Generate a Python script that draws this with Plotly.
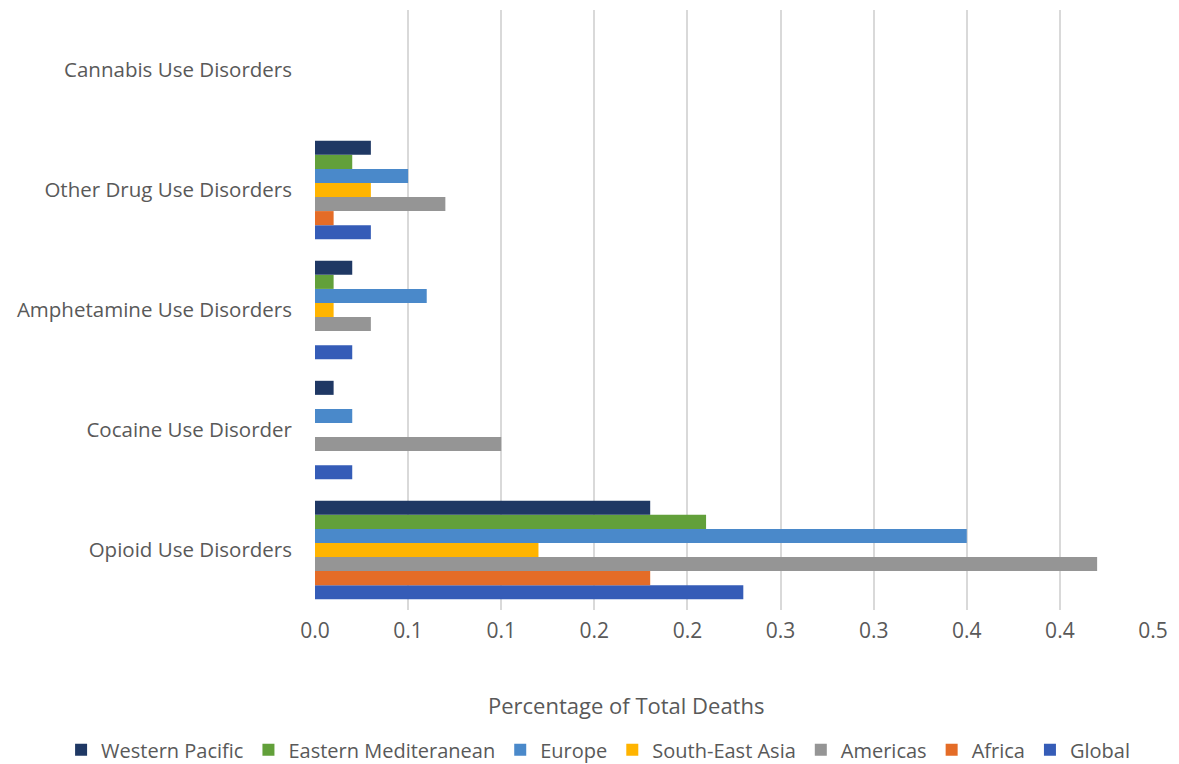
import plotly.graph_objects as go

categories = ["Opioid Use Disorders", "Cocaine Use Disorder", "Amphetamine Use Disorders",
              "Other Drug Use Disorders", "Cannabis Use Disorders"]

# values per region, in category order above
global_vals = [0.23, 0.02, 0.02, 0.03, 0.0]
africa_vals = [0.18, 0.0, 0.0, 0.01, 0.0]
americas_vals = [0.42, 0.10, 0.03, 0.07, 0.0]
sea_vals = [0.12, 0.0, 0.01, 0.03, 0.0]
europe_vals = [0.35, 0.02, 0.06, 0.05, 0.0]
emr_vals = [0.21, 0.0, 0.01, 0.02, 0.0]
wpr_vals = [0.18, 0.01, 0.02, 0.03, 0.0]

tick_vals = [0, 0.05, 0.10, 0.15, 0.20, 0.25, 0.30, 0.35, 0.40, 0.45]
tick_text = ["0.0", "0.1", "0.1", "0.2", "0.2", "0.3", "0.3", "0.4", "0.4", "0.5"]

x_title = "Percentage of Total Deaths"

series = [
    ("Global", global_vals, "#355CB7"),
    ("Africa", africa_vals, "#E46C27"),
    ("Americas", americas_vals, "#959595"),
    ("South-East Asia", sea_vals, "#FFB400"),
    ("Europe", europe_vals, "#4A89CA"),
    ("Eastern Mediteranean", emr_vals, "#62A03A"),
    ("Western Pacific", wpr_vals, "#1F3864"),
]

fig = go.Figure()
for name, vals, color in series:
    fig.add_trace(go.Bar(y=categories, x=vals, name=name, orientation="h",
                         marker=dict(color=color, line=dict(width=0))))

font_color = "#595959"
fig.update_layout(
    width=1171, height=756,
    barmode="group", bargap=0.18, bargroupgap=0,
    plot_bgcolor="white", paper_bgcolor="white",
    font=dict(family="Open Sans", size=18, color=font_color),
    margin=dict(l=307, r=26, t=2, b=154, autoexpand=False),
    xaxis=dict(range=[0, 0.45], tickvals=tick_vals, ticktext=tick_text,
               showgrid=True, gridcolor="#D9D9D9", gridwidth=2, zeroline=False,
               showline=False, ticks="", ticklabelstandoff=6,
               tickfont=dict(size=21)),
    yaxis=dict(categoryorder="array", categoryarray=categories, showgrid=False,
               showline=False, ticks="", ticklabelstandoff=22,
               tickfont=dict(size=20.5), range=[-0.5, 4.5]),
    legend=dict(orientation="h", x=-0.303, xanchor="left",
                y=-0.233, yanchor="middle", itemwidth=30,
                traceorder="reversed", font=dict(size=20)),
    annotations=[dict(text=x_title, xref="paper", yref="paper", x=0.371, y=-0.158,
                      xanchor="center", yanchor="middle", showarrow=False,
                      font=dict(size=22, color=font_color))],
)

fig.write_html("out.html")
